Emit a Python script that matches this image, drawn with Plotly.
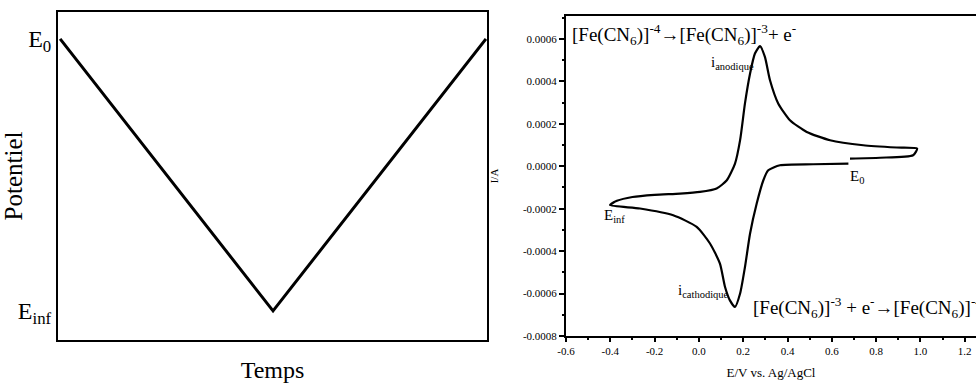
import plotly.graph_objects as go

# ---------------- data ----------------
# Left panel: triangular potential sweep (E0 -> Einf -> E0)
temps = [0, 1, 2]
potentiel = [1, 0, 1]
pot_tickvals = [1, 0]
pot_ticktext = ["E<sub>0</sub>", "E<sub>inf</sub>"]

# Right panel: cyclic voltammogram (E / V vs Ag/AgCl, I / A)
cv_E = [0.682, 0.818, 0.967, 0.985,
        0.893, 0.742, 0.592, 0.487, 0.411, 0.358, 0.321, 0.298, 0.276,
        0.253, 0.231, 0.208, 0.186, 0.163, 0.126, 0.080, 0.005, -0.085,
        -0.200, -0.300, -0.370, -0.401,
        -0.266, -0.116, -0.010, 0.050, 0.095, 0.118, 0.140, 0.163,
        0.186, 0.208, 0.231, 0.261, 0.291, 0.313, 0.366, 0.516, 0.675]
cv_I = [0.0000363, 0.0000401, 0.0000519, 0.0000835,
        0.0000882, 0.0000990, 0.0001226, 0.0001617, 0.000217, 0.000296, 0.000405, 0.000515, 0.000566,
        0.000531, 0.000437, 0.000296, 0.000123, 0.0000127, -0.000066, -0.000105, -0.000121, -0.000129,
        -0.000135, -0.000145, -0.000163, -0.000183,
        -0.000199, -0.000231, -0.000286, -0.000364, -0.000459, -0.000569, -0.000632, -0.000663,
        -0.000600, -0.000475, -0.000317, -0.000176, -0.000066, -0.0000189, 0.0000047, 0.0000094, 0.0000127]
x2_ticks = [-0.6, -0.4, -0.2, 0.0, 0.2, 0.4, 0.6, 0.8, 1.0, 1.2]
y2_ticks = [-0.0008, -0.0006, -0.0004, -0.0002, 0.0, 0.0002, 0.0004, 0.0006]

FONT = "Liberation Serif, Times New Roman, serif"

fig = go.Figure()
fig.add_trace(go.Scatter(x=temps, y=potentiel, mode="lines",
                         line=dict(color="black", width=3),
                         xaxis="x", yaxis="y", showlegend=False, hoverinfo="skip"))
fig.add_trace(go.Scatter(x=cv_E, y=cv_I, mode="lines",
                         line=dict(color="black", width=2.2, shape="spline", smoothing=0.6),
                         xaxis="x2", yaxis="y2", showlegend=False, hoverinfo="skip"))

W, H = 976, 385
def px(v):
    return v / W
def py(v):
    return 1 - v / H

fig.update_layout(
    width=W, height=H,
    margin=dict(l=0, r=0, t=0, b=0, autoexpand=False),
    paper_bgcolor="white", plot_bgcolor="white",
    font=dict(family=FONT, color="black"),
    xaxis=dict(domain=[px(58), px(487)], range=[-0.01, 2.005], automargin=False,
               showgrid=False, zeroline=False, showticklabels=False, ticks="",
               showline=True, linecolor="black", linewidth=2, mirror=True,
               title=dict(text="Temps", font=dict(size=24, family=FONT), standoff=20),
               anchor="y"),
    yaxis=dict(domain=[py(340), py(12)], range=[-0.107, 1.099], automargin=False,
               showgrid=False, zeroline=False, ticks="",
               tickvals=pot_tickvals, ticktext=pot_ticktext,
               tickfont=dict(size=24, family=FONT),
               showline=True, linecolor="black", linewidth=2, mirror=True,
               title=dict(text="Potentiel", font=dict(size=25, family=FONT), standoff=0),
               anchor="x"),
    xaxis2=dict(domain=[px(566), 1.0], range=[-0.6, 1.251], automargin=False,
                showgrid=False, zeroline=False,
                tickvals=x2_ticks, ticktext=[f"{v:.1f}" for v in x2_ticks],
                ticks="outside", ticklen=4, tickwidth=2, tickcolor="black",
                minor=dict(dtick=0.1, tick0=0, ticks="outside", ticklen=2, tickwidth=2, tickcolor="black"),
                tickfont=dict(size=11, family=FONT),
                showline=True, linecolor="black", linewidth=2, mirror=True,
                title=dict(text="E/V vs. Ag/AgCl", font=dict(size=13, family=FONT), standoff=12),
                anchor="y2"),
    yaxis2=dict(domain=[py(336), py(16)], range=[-0.0008, 0.000708], automargin=False,
                showgrid=False, zeroline=False,
                tickvals=y2_ticks, ticktext=[f"{v:.4f}" for v in y2_ticks],
                ticks="outside", ticklen=5, tickwidth=2, tickcolor="black",
                minor=dict(dtick=0.0001, tick0=0, ticks="outside", ticklen=2, tickwidth=2, tickcolor="black"),
                tickfont=dict(size=11, family=FONT),
                showline=True, linecolor="black", linewidth=2, mirror=False,
                title=dict(text="I/A", font=dict(size=11, family=FONT), standoff=22),
                anchor="x2"),
)

ann_font = dict(family=FONT, color="black")
anns = [
    dict(x=-0.584, y=0.000622, text="[Fe(CN<sub>6</sub>)]<sup>-4</sup>→[Fe(CN<sub>6</sub>)]<sup>-3</sup>+ e<sup>-</sup>", size=19),
    dict(x=0.046, y=0.000486, text="i<sub>anodique</sub>", size=15),
    dict(x=0.673, y=-0.0000519, text="E<sub>0</sub>", size=15),
    dict(x=-0.437, y=-0.000236, text="E<sub>inf</sub>", size=15),
    dict(x=-0.103, y=-0.000589, text="i<sub>cathodique</sub>", size=15),
    dict(x=0.236, y=-0.000665, text="[Fe(CN<sub>6</sub>)]<sup>-3</sup> + e<sup>-</sup>→[Fe(CN<sub>6</sub>)]<sup>-4</sup>", size=19),
]
for a in anns:
    fig.add_annotation(x=a["x"], y=a["y"], xref="x2", yref="y2", text=a["text"],
                       showarrow=False, xanchor="left", yanchor="middle",
                       font=dict(size=a["size"], **ann_font))

fig.write_html("out.html", config={"displayModeBar": False},
               post_script="document.body.style.margin='0';document.body.style.overflow='hidden';")
